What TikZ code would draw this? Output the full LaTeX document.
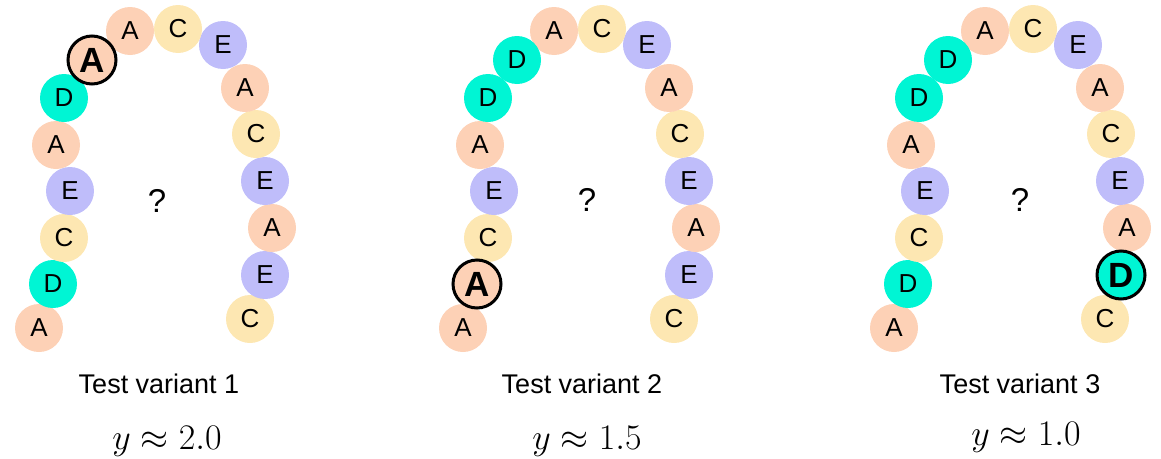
\RequirePackage{fix-cm}
\documentclass[tikz,border=0pt]{standalone}
\usepackage[no-math]{fontspec}
\setmainfont{Liberation Sans}
\definecolor{cA}{RGB}{253,209,182}
\definecolor{cC}{RGB}{253,231,178}
\definecolor{cE}{RGB}{191,189,250}
\definecolor{cD}{RGB}{0,245,212}
\tikzset{
  bead/.style={circle, minimum size=48pt, inner sep=0pt, fill=c#1,
    font=\fontsize{26}{26}\selectfont},
  keybead/.style={bead=#1, draw=black, line width=3pt,
    font=\fontsize{35}{35}\selectfont\bfseries},
  qmark/.style={font=\fontsize{33}{33}\selectfont},
  caption/.style={anchor=base, font=\fontsize{27}{27}\selectfont},
  value/.style={anchor=base, font=\fontsize{36}{36}\selectfont}
}
\begin{document}
\begin{tikzpicture}[x=1pt,y=-1pt]
\useasboundingbox (0,0) rectangle (1161,458);
% ---------- variant 1 ----------
\begin{scope}
\foreach \i/\x/\y/\c in {16/250/319/C,15/265/275/E,14/272/228/A,13/265/181/E,
  12/256/134/C,11/245/88/A,10/223/45/E,9/178/29/C,8/130/31/A,
  1/39/328/A,2/53/284/D,3/64/238/C,4/70/191/E,5/56/145/A,6/64/98/D}
  \node[bead=\c] (va\i) at (\x,\y) {\c};
\node[keybead=A] (va7) at (92,60) {A};
\end{scope}
% ---------- variant 2 ----------
\begin{scope}[shift={(424,0)}]
\foreach \i/\x/\y/\c in {16/250/319/C,15/265/275/E,14/272/228/A,13/265/181/E,
  12/256/134/C,11/245/88/A,10/223/45/E,9/178/29/C,8/130/31/A,
  1/39/328/A,3/64/238/C,4/70/191/E,5/56/145/A,6/64/98/D,7/93/60/D}
  \node[bead=\c] (vb\i) at (\x,\y) {\c};
\node[keybead=A] (vb2) at (53,284) {A};
\end{scope}
% ---------- variant 3 ----------
\begin{scope}[shift={(855,0)}]
\foreach \i/\x/\y/\c in {16/250/319/C,14/272/228/A,13/265/181/E,
  12/256/134/C,11/245/88/A,10/223/45/E,9/178/29/C,8/130/31/A,
  1/39/328/A,2/53/284/D,3/64/238/C,4/70/191/E,5/56/145/A,6/64/98/D,7/93/60/D}
  \node[bead=\c] (vc\i) at (\x,\y) {\c};
\node[keybead=D] (vc15) at (266,275) {D};
\end{scope}
% ---------- question marks ----------
\node[qmark] (qa) at (157,201) {?};
\node[qmark] (qb) at (587,200) {?};
\node[qmark] (qc) at (1020,200) {?};
% ---------- captions ----------
\node[caption] (ta) at (159,393) {Test variant 1};
\node[caption] (tb) at (582,393) {Test variant 2};
\node[caption] (tc) at (1020,393) {Test variant 3};
\node[value] (ya) at (167,449) {$y\approx2.0$};
\node[value] (yb) at (587,449) {$y\approx1.5$};
\node[value] (yc) at (1026,445) {$y\approx1.0$};
\end{tikzpicture}
\end{document}
